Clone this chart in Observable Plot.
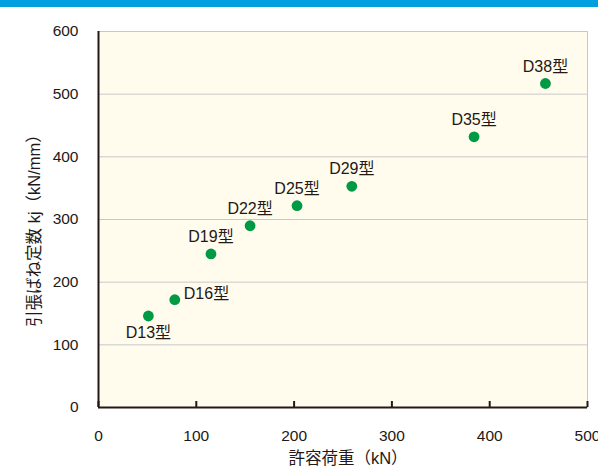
<!DOCTYPE html>
<html>
<head>
<meta charset="utf-8">
<script src="https://cdn.jsdelivr.net/npm/d3@7"></script>
<script src="https://cdn.jsdelivr.net/npm/@observablehq/plot@0.6"></script>
<style>
  html, body { margin: 0; padding: 0; background: #ffffff; }
  #wrap { position: relative; width: 598px; height: 468px; overflow: hidden; }
  #bar { position: absolute; left: 0; top: 0; width: 598px; height: 7px; background: #009fe0; z-index: 2; }
  #chart { position: absolute; left: 0; top: 0; }
</style>
</head>
<body>
<div id="wrap">
  <div id="bar"></div>
  <div id="chart"></div>
</div>
<script>
const sizes = ["D13型", "D16型", "D19型", "D22型", "D25型", "D29型", "D35型", "D38型"];
const allowableLoad = [51, 78, 115, 155, 203, 259, 384, 457];
const springConstant = [146, 172, 245, 290, 322, 353, 432, 517];
const xTicks = [0, 100, 200, 300, 400, 500];
const yTicks = [0, 100, 200, 300, 400, 500, 600];
const xLabel = "許容荷重（kN）";
const yLabel = "引張ばね定数 kj（kN/mm）";

const data = sizes.map((s, i) => ({ size: s, x: allowableLoad[i], y: springConstant[i] }));
const ink = "#231815";
const green = "#009944";

const chart = Plot.plot({
  width: 598,
  height: 468,
  marginTop: 31,
  marginBottom: 61,
  marginLeft: 98,
  marginRight: 11,
  style: { fontSize: "15.5px", fontFamily: "'Liberation Sans', 'Noto Sans CJK JP', sans-serif", color: ink, background: "transparent", overflow: "visible" },
  x: { domain: [0, 500] },
  y: { domain: [0, 600] },
  marks: [
    Plot.frame({ fill: "#fffcee", stroke: "#c8c8c8", strokeWidth: 1 }),
    Plot.gridY(yTicks, { stroke: "#c8c8c8", strokeOpacity: 1, strokeWidth: 1 }),
    Plot.ruleY([0], { stroke: ink, strokeWidth: 2 }),
    Plot.ruleX([0], { stroke: ink, strokeWidth: 2 }),
    Plot.axisX(xTicks, { tickSize: -6, stroke: ink, strokeWidth: 2, tickFormat: () => "", label: null }),
    Plot.axisX(xTicks, { tickSize: 0, tickPadding: 22, fill: ink, fontSize: 15.5, label: null }),
    Plot.axisY(yTicks, { tickSize: 0, tickPadding: 20, fill: ink, fontSize: 15.5, label: null }),
    Plot.text([xLabel], { frameAnchor: "bottom", dx: 5, dy: 51, lineAnchor: "middle", fontSize: 16.5, fill: ink }),
    Plot.text([yLabel], { frameAnchor: "left", dx: -64, dy: 7, rotate: -90, textAnchor: "middle", lineAnchor: "middle", fontSize: 16.5, fill: ink }),
    Plot.dot(data, { x: "x", y: "y", r: 5.4, fill: green, stroke: null }),
    Plot.text(data, { filter: d => d.size === "D13型", x: "x", y: "y", text: "size", dy: 17, fontSize: 16, fill: ink }),
    Plot.text(data, { filter: d => d.size === "D16型", x: "x", y: "y", text: "size", dx: 9, dy: -6, textAnchor: "start", fontSize: 16, fill: ink }),
    Plot.text(data, { filter: d => d.size !== "D13型" && d.size !== "D16型", x: "x", y: "y", text: "size", dy: -17, fontSize: 16, fill: ink })
  ]
});
document.getElementById("chart").appendChild(chart);
</script>
</body>
</html>
